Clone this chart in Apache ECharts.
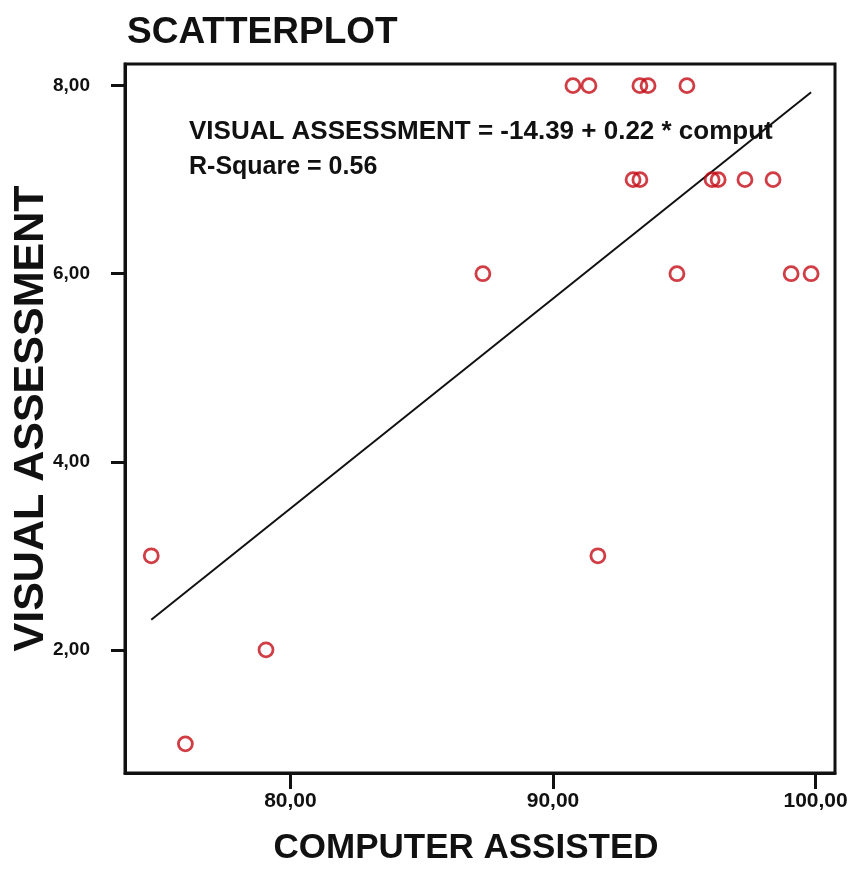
<!DOCTYPE html>
<html>
<head>
<meta charset="utf-8">
<script src="https://cdn.jsdelivr.net/npm/echarts@6/dist/echarts.min.js"></script>
<style>
  html, body { margin: 0; padding: 0; background: #fff; }
  #scatterChart { width: 854px; height: 879px; }
</style>
</head>
<body>
<div id="scatterChart"></div>
<script>
// computer assisted score (x) vs visual assessment (y)
var computerAssisted = [74.7, 76.0, 79.07, 87.33, 91.71,
  90.76, 91.37, 93.31, 93.62, 95.10,
  93.05, 93.31, 96.06, 96.29, 97.31, 98.38,
  94.72, 99.07, 99.83];
var visualAssessment = [3, 1, 2, 6, 3,
  8, 8, 8, 8, 8,
  7, 7, 7, 7, 7, 7,
  6, 6, 6];
// fit line ends as drawn
var fitX = [74.7, 99.83];
var fitY = [2.32, 7.93];
var xTicks = [80, 90, 100];
var yTicks = [2, 4, 6, 8];

var points = [];
for (var i = 0; i < computerAssisted.length; i++) {
  points.push([computerAssisted[i], visualAssessment[i]]);
}
var fitLine = [[fitX[0], fitY[0]], [fitX[1], fitY[1]]];

function fmt(v) {
  return v.toFixed(2).replace('.', ',');
}

var font = 'Liberation Sans, Arial, sans-serif';

var scatterChart = echarts.init(document.getElementById('scatterChart'), null, {
  renderer: 'canvas'
});

var options = {
  backgroundColor: '#fff',
  animation: false,
  title: [
    {
      text: 'SCATTERPLOT',
      left: 122,
      top: 9,
      textStyle: { fontFamily: font, fontWeight: 'bold', fontSize: 37, color: '#111' }
    },
    {
      text: 'VISUAL ASSESSMENT = -14.39 + 0.22 * comput',
      left: 184,
      top: 114,
      textStyle: { fontFamily: font, fontWeight: 'bold', fontSize: 26, color: '#111' }
    },
    {
      text: 'R-Square = 0.56',
      left: 184,
      top: 150,
      textStyle: { fontFamily: font, fontWeight: 'bold', fontSize: 25, color: '#111' }
    }
  ],
  grid: {
    left: 125,
    right: 19,
    top: 64,
    bottom: 106,
    outerBoundsMode: 'none',
    show: true,
    borderColor: '#111',
    borderWidth: 3,
    backgroundColor: '#fff'
  },
  xAxis: {
    type: 'value',
    min: 73.7,
    max: 100.74,
    name: 'COMPUTER ASSISTED',
    nameLocation: 'middle',
    nameGap: 58,
    nameMoveOverlap: false,
    nameTextStyle: { fontFamily: font, fontWeight: 'bold', fontSize: 35, color: '#111', padding: [0, 28, 0, 0] },
    splitLine: { show: false },
    axisLine: { lineStyle: { color: '#111', width: 3 } },
    axisTick: {
      customValues: xTicks,
      length: 16,
      lineStyle: { color: '#111', width: 3 }
    },
    axisLabel: {
      customValues: xTicks,
      margin: 18,
      formatter: fmt,
      fontFamily: font,
      fontWeight: 'bold',
      fontSize: 21,
      color: '#111'
    }
  },
  yAxis: {
    type: 'value',
    min: 0.69,
    max: 8.23,
    name: 'VISUAL ASSESSMENT',
    nameLocation: 'middle',
    nameGap: 72,
    nameMoveOverlap: false,
    nameTextStyle: { fontFamily: font, fontWeight: 'bold', fontSize: 43, color: '#111' },
    splitLine: { show: false },
    axisLine: { lineStyle: { color: '#111', width: 3 } },
    axisTick: {
      customValues: yTicks,
      length: 14,
      lineStyle: { color: '#111', width: 3 }
    },
    axisLabel: {
      customValues: yTicks,
      margin: 35,
      formatter: fmt,
      fontFamily: font,
      fontWeight: 'bold',
      fontSize: 19,
      color: '#111'
    }
  },
  series: [
    {
      name: 'fit',
      type: 'line',
      data: fitLine,
      showSymbol: false,
      lineStyle: { color: '#111', width: 2 },
      z: 2
    },
    {
      name: 'points',
      type: 'scatter',
      data: points,
      symbol: 'circle',
      symbolSize: 14,
      itemStyle: {
        color: 'rgba(255,255,255,0)',
        borderColor: '#c40c16',
        borderWidth: 2.8
      },
      z: 3
    }
  ]
};

scatterChart.setOption(options);
</script>
</body>
</html>
